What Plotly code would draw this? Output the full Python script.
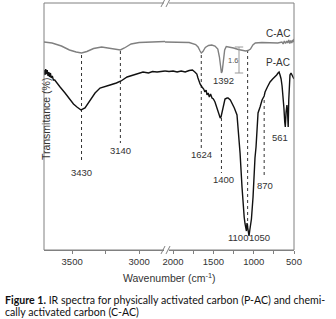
import plotly.graph_objects as go

# ---------------- data ----------------
# C-AC (gray) spectrum: wavenumber (cm-1) and transmittance (arbitrary units)
cac_wn = [3710, 3650, 3580, 3520, 3470, 3430, 3390, 3340, 3280, 3220, 3170, 3140, 3110, 3060,
          3000, 2900, 2807,
          2100, 1950, 1800, 1720, 1690, 1665, 1650, 1630, 1600, 1560, 1520, 1480, 1445,
          1425, 1410, 1400, 1390, 1375, 1360, 1340, 1300, 1250, 1190, 1140, 1100, 1070,
          1040, 1010, 980, 900, 800, 700, 650, 635, 620, 605, 590, 578, 565, 552, 540,
          528, 516, 508, 500]
cac_t = [208, 207, 204, 200, 198, 197, 198.5, 201.5, 203, 202, 201, 200, 202, 206,
         207.5, 208, 208.5,
         208, 208, 207.5, 205.5, 203, 199, 197, 198.5, 202.5, 204.5, 205, 204, 201,
         193, 182, 177, 179, 190, 200, 203.5, 203, 202, 200.5, 199.5, 199, 199.5,
         201, 205, 207, 207.5, 207.5, 207, 208, 206, 209, 206.5, 209, 207, 210, 206.5,
         209.5, 207, 210, 208, 211]

# P-AC (black) spectrum
pac_wn = [3710, 3703, 3697, 3692, 3686, 3680, 3674, 3668, 3662, 3656, 3648, 3640, 3630, 3620,
          3605, 3590, 3553, 3516, 3490, 3464, 3434, 3404, 3385, 3367, 3329, 3292, 3250,
          3217, 3170, 3135, 3090, 3046, 3010, 2971, 2930, 2900, 2866, 2830, 2807,
          2100, 2050, 2000, 1950, 1900, 1850, 1800, 1760, 1730, 1705, 1691, 1665, 1641,
          1620, 1605, 1590, 1579, 1565, 1550, 1535, 1517, 1500, 1480, 1460, 1442, 1425,
          1415, 1405, 1390, 1375, 1356, 1330, 1318, 1290, 1269, 1240, 1207, 1185, 1169,
          1145, 1132, 1118, 1107, 1098, 1090, 1083, 1075, 1066, 1058, 1048, 1038, 1028,
          1008, 996, 984, 971, 959, 946, 921, 896, 870, 859, 830, 797, 765, 735, 715,
          698, 685, 673, 660, 648, 636, 625, 615, 608, 598, 588, 580, 572, 565, 558,
          550, 537, 520, 500]
pac_t = [180, 175, 181, 176, 180, 174, 178, 173, 177, 172, 174, 170, 170, 168,
         166, 163, 157, 150, 146, 143, 140, 142, 146, 150, 157, 162, 164,
         165, 167, 169, 173, 175, 176.5, 178, 177, 178.5, 178, 179, 179,
         179, 178.5, 179, 178, 179, 178, 179.5, 180, 178, 176, 172, 166, 163,
         161, 158, 160, 155, 157, 153, 156, 152, 151, 148, 143, 137, 134,
         132, 133, 138, 145, 151, 152, 152, 150, 147, 142, 135, 115, 97,
         63, 43, 33, 26, 21, 19, 27, 24, 18, 14, 20, 26, 31,
         53, 80, 92, 103, 120, 137, 143, 150, 154, 158, 163, 168, 171, 173, 175,
         177, 178, 175, 171, 164, 155, 142, 128, 123, 138, 145, 138, 123, 150, 167,
         175, 177, 174, 171]

# band positions marked with dotted lines, and their labels
band_x = [3430, 3140, 1650, 1400, 1075, 870]
band_top = [195, 199, 195, 132, 200, 150]
band_bottom = [88, 107, 102, 77, 23, 72]

label_text = ["3430", "3140", "1624", "1400", "1392", "1100", "1050", "870", "561"]
label_x = [3430, 3140, 1650, 1380, 1380, 1200, 925, 860, 673]
label_y = [78, 100, 96, 71, 170, 13, 13, 65, 113]

caption_lines = ["<b>Figure 1.</b> IR spectra for physically activated carbon (P-AC) and chemi-",
                 "cally activated carbon (C-AC)"]

# ---------------- figure ----------------
BREAK = 2500  # wavenumbers above this go on the left axis segment
DOM = 0.484

def split(wn, t):
    left = [(w, v) for w, v in zip(wn, t) if w > BREAK]
    right = [(w, v) for w, v in zip(wn, t) if w <= BREAK]
    return ([a for a, _ in left], [b for _, b in left]), ([a for a, _ in right], [b for _, b in right])

fig = go.Figure()
GRAY = "#808080"
BLACK = "#111111"

(cl, cr) = split(cac_wn, cac_t)
(pl, pr) = split(pac_wn, pac_t)

# dotted band lines
for x, y0, y1 in zip(band_x, band_top, band_bottom):
    ax = "x" if x > BREAK else "x2"
    fig.add_trace(go.Scatter(x=[x, x], y=[y0, y1], mode="lines", xaxis=ax, yaxis="y",
                             line=dict(color="#333333", width=1, dash="dot"),
                             hoverinfo="skip", showlegend=False))

for (xs, ys), ax, col in [(cl, "x", GRAY), (cr, "x2", GRAY), (pl, "x", BLACK), (pr, "x2", BLACK)]:
    fig.add_trace(go.Scatter(x=xs, y=ys, mode="lines", xaxis=ax, yaxis="y",
                             line=dict(color=col, width=1.4), showlegend=False))

# 1.6 scale bar
scale_x = 1182
scale_lo, scale_hi = 177, 203
fig.add_trace(go.Scatter(x=[scale_x, scale_x], y=[scale_lo, scale_hi], mode="lines+markers",
                         xaxis="x2", yaxis="y",
                         marker=dict(symbol="line-ew", size=6, line=dict(color="#999999", width=1)),
                         line=dict(color="#999999", width=1), showlegend=False))

for txt, x, y in zip(label_text, label_x, label_y):
    fig.add_annotation(x=x, y=y, xref="x" if x > BREAK else "x2", yref="y", text=txt,
                       showarrow=False, font=dict(size=9.5, color="#333333",
                                                  family="Liberation Sans, Arial"))

fig.add_annotation(x=1256, y=190, xref="x2", yref="y", text="1.6", showarrow=False,
                   font=dict(size=7.5, color="#555555", family="Liberation Sans, Arial"))
fig.add_annotation(x=698, y=217, xref="x2", yref="y", text="C-AC", showarrow=False,
                   font=dict(size=10, color="#333333", family="Liberation Sans, Arial"))
fig.add_annotation(x=698, y=188, xref="x2", yref="y", text="P-AC", showarrow=False,
                   font=dict(size=10, color="#333333", family="Liberation Sans, Arial"))

tickfont = dict(size=9.5, color="#333333", family="Liberation Sans, Arial")
fig.update_layout(
    width=336, height=319,
    margin=dict(l=44, r=42, t=3, b=69),
    paper_bgcolor="white", plot_bgcolor="white",
    xaxis=dict(domain=[0, DOM], range=[3710, 2807], showgrid=False, zeroline=False,
               showline=True, linecolor=GRAY, linewidth=1,
               tickvals=[3500, 3250, 3000], ticktext=["3500", "", "3000"],
               ticks="outside", ticklen=3, tickcolor=GRAY, tickfont=tickfont, anchor="y"),
    xaxis2=dict(domain=[DOM, 1], range=[2100, 500], showgrid=False, zeroline=False,
                showline=True, linecolor=GRAY, linewidth=1,
                tickvals=[2000, 1750, 1500, 1250, 1000, 750, 500],
                ticktext=["2000", "", "1500", "", "1000", "", "500"],
                ticks="outside", ticklen=3, tickcolor=GRAY, tickfont=tickfont, anchor="y"),
    yaxis=dict(range=[0, 247], showgrid=False, zeroline=False, showticklabels=False,
               showline=False, ticks=""),
)

# frame
fig.add_shape(type="rect", xref="paper", yref="paper", x0=0, x1=1, y0=0, y1=1,
              line=dict(color=GRAY, width=1))
# axis break marks
for yb in (0, 1):
    fig.add_shape(type="rect", xref="paper", yref="paper", x0=DOM - 0.004, x1=DOM + 0.016,
                  y0=yb - 0.006, y1=yb + 0.006, line=dict(width=0), fillcolor="white")
    for dx in (-0.008, 0.012):
        fig.add_shape(type="line", xref="paper", yref="paper",
                      x0=DOM + dx - 0.008, x1=DOM + dx + 0.008, y0=yb - 0.016, y1=yb + 0.016,
                      line=dict(color=GRAY, width=1))

fig.add_annotation(x=0.5, y=-0.11, xref="paper", yref="paper", yanchor="middle",
                   text="Wavenumber (cm<sup>-1</sup>)", showarrow=False,
                   font=dict(size=10.5, color="#333333", family="Liberation Sans, Arial"))
fig.add_annotation(x=-0.024, y=0.53, xref="paper", yref="paper", textangle=-90,
                   text="Transmitance (%)", showarrow=False,
                   font=dict(size=10.5, color="#333333", family="Liberation Sans, Arial"))
for line, yc in zip(caption_lines, [-0.202, -0.249]):
    fig.add_annotation(x=-0.166, y=yc, xref="paper", yref="paper", xanchor="left",
                       yanchor="middle", align="left", showarrow=False, text=line,
                       font=dict(size=10.6, color="#111111", family="Lato"))

fig.write_html("out.html", config={"displayModeBar": False},
               post_script="document.body.style.margin='0';document.body.style.overflow='hidden';")
